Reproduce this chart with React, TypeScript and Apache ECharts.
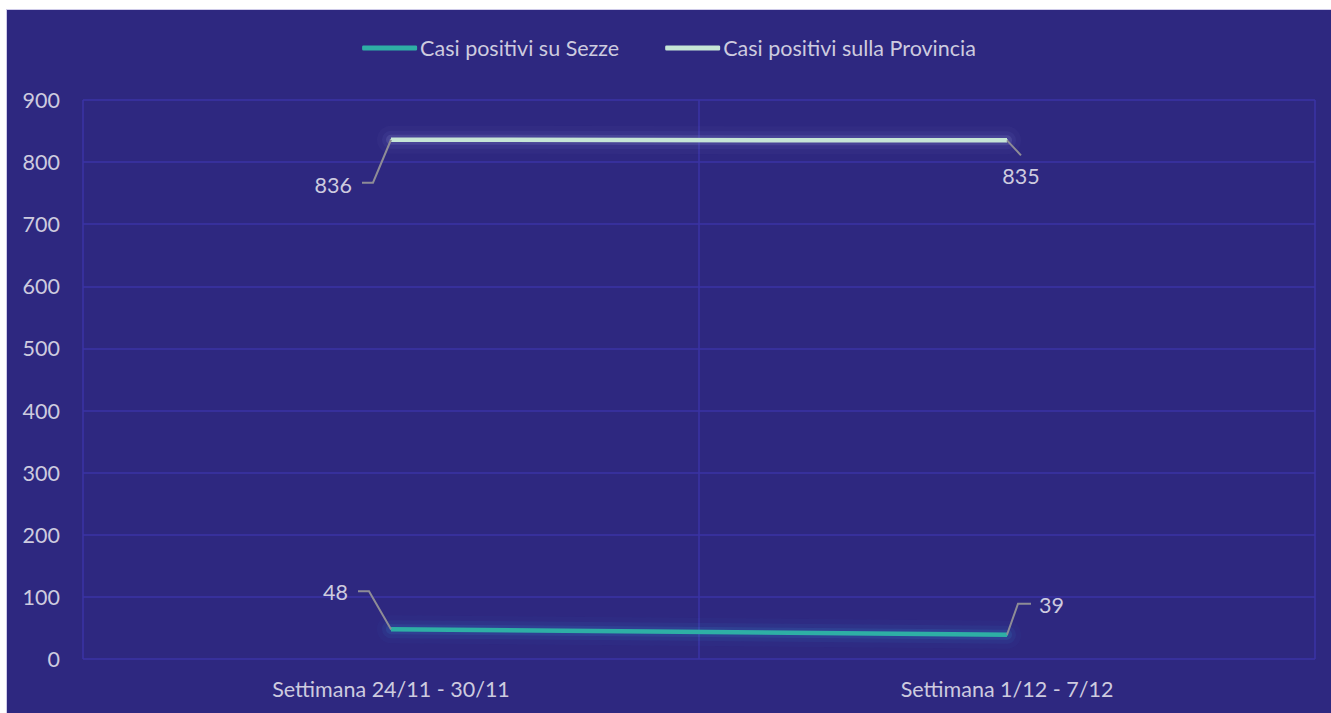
import React, { useEffect, useRef } from "react";
import * as echarts from "echarts";

const categories = ["Settimana 24/11 - 30/11", "Settimana 1/12 - 7/12"];
const seriesNames = ["Casi positivi su Sezze", "Casi positivi sulla Provincia"];
const sezzeValues = [48, 39];
const provinciaValues = [836, 835];
const yMin = 0;
const yMax = 900;
const yInterval = 100;

const FONT = "Lato";
const FS = 21.5;
const TEXT = "#CDCBDF";
const LEADER = "#8E8C96";

// leader-line offsets relative to each data point (pixels), per series / point
const leaderOffsets = [
  [
    [[0, 0], [-22, -38], [-33, -38]],
    [[0, 0], [11, -31], [24, -31]],
  ],
  [
    [[0, 0], [-18, 43], [-29, 43]],
    [[0, 0], [14, 15]],
  ],
];
const labelOffsets = [
  [
    { dx: -43, dy: -37, align: "right" },
    { dx: 32, dy: -30, align: "left" },
  ],
  [
    { dx: -39, dy: 45, align: "right" },
    { dx: 14, dy: 36, align: "center" },
  ],
];

export default function App() {
  const ref = useRef<HTMLDivElement>(null);
  useEffect(() => {
    if (!ref.current) return;
    const chart = echarts.init(ref.current, null, { renderer: "svg" });

    const layoutFor = (params: any) => {
      const r = params.rect;
      const cx = r.x + r.width / 2;
      const cy = r.y + r.height / 2;
      const o = labelOffsets[params.seriesIndex][params.dataIndex];
      return { x: cx + o.dx, y: cy + o.dy, align: o.align, verticalAlign: "middle" };
    };

    const mkSeries = (name: string, data: number[], color: string) => ({
      name,
      type: "line",
      data,
      symbol: "circle",
      symbolSize: 2,
      showSymbol: true,
      z: 5,
      itemStyle: { color },
      lineStyle: { color, width: 4.5 },
      label: { show: true, color: TEXT, fontFamily: FONT, fontSize: FS },
      labelLayout: layoutFor,
      emphasis: { disabled: true },
    });

    const glow = (name: string, data: number[], color: string, width: number, opacity: number) => ({
      name: name + " glow",
      type: "line",
      data,
      symbol: "none",
      silent: true,
      z: 2,
      lineStyle: { color, width, opacity, cap: "round" },
      emphasis: { disabled: true },
    });

    chart.setOption({
      animation: false,
      backgroundColor: "#2E2880",
      textStyle: { fontFamily: FONT },
      legend: {
        top: 22,
        left: "center",
        icon: "roundRect",
        itemWidth: 55,
        itemHeight: 5,
        itemGap: 46,
        textStyle: { color: TEXT, fontSize: FS, fontFamily: FONT, padding: [0, 0, 0, -2] },
        data: seriesNames,
      },
      grid: { left: 76, right: 16, top: 90, bottom: 54 },
      xAxis: {
        type: "category",
        data: categories,
        boundaryGap: true,
        axisLine: { show: false },
        axisTick: { show: false },
        axisLabel: { color: TEXT, fontSize: FS, fontFamily: FONT, margin: 19 },
        splitLine: { show: true, lineStyle: { color: "#3B33A6", width: 1.5 } },
      },
      yAxis: {
        type: "value",
        min: yMin,
        max: yMax,
        interval: yInterval,
        axisLine: { show: false },
        axisTick: { show: false },
        axisLabel: { color: TEXT, fontSize: FS, fontFamily: FONT, margin: 23 },
        splitLine: { show: true, lineStyle: { color: "#3B33A6", width: 1.5 } },
      },
      series: [
        mkSeries(seriesNames[0], sezzeValues, "#2EAFA5"),
        mkSeries(seriesNames[1], provinciaValues, "#C6E6D6"),
        glow(seriesNames[0], sezzeValues, "#3A8FD0", 10, 0.16),
        glow(seriesNames[0], sezzeValues, "#3A84CC", 18, 0.09),
        glow(seriesNames[0], sezzeValues, "#3A7FC8", 28, 0.05),
        glow(seriesNames[1], provinciaValues, "#A0AAE8", 10, 0.15),
        glow(seriesNames[1], provinciaValues, "#8E96DE", 18, 0.08),
        glow(seriesNames[1], provinciaValues, "#8A90DA", 28, 0.045),
      ],
    });

    const allValues = [sezzeValues, provinciaValues];
    const elements: any[] = [];
    allValues.forEach((vals, s) => {
      vals.forEach((v, i) => {
        const p = chart.convertToPixel({ xAxisIndex: 0, yAxisIndex: 0 }, [i, v]) as number[];
        elements.push({
          type: "polyline",
          silent: true,
          z: 10,
          shape: { points: leaderOffsets[s][i].map(([dx, dy]) => [p[0] + dx, p[1] + dy]) },
          style: { stroke: LEADER, lineWidth: 2, fill: null },
        });
      });
    });
    chart.setOption({ graphic: elements });

    return () => chart.dispose();
  }, []);

  return (
    <div
      style={{
        position: "absolute",
        left: 6,
        top: 9,
        width: 1325,
        height: 704,
        borderTop: "1px solid #CFCBE9",
        borderLeft: "1px solid #CFCBE9",
        boxSizing: "border-box",
        background: "#2E2880",
      }}
    >
      <div ref={ref} style={{ width: 1324, height: 703 }} />
    </div>
  );
}
